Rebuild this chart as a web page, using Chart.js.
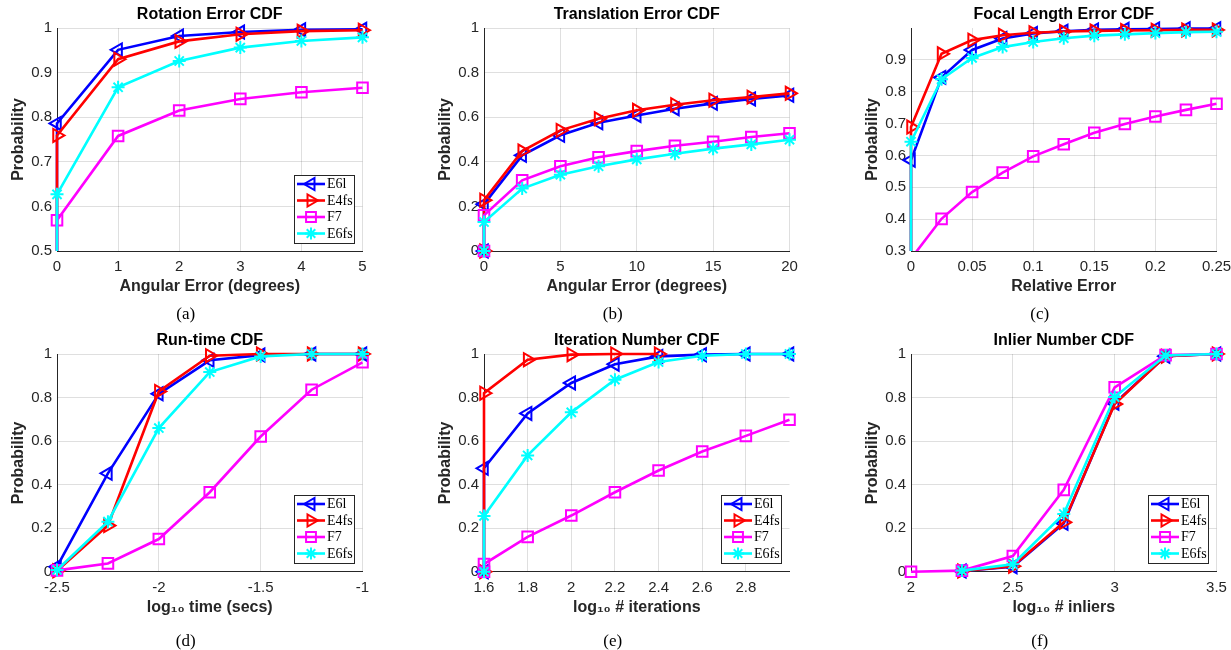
<!DOCTYPE html>
<html>
<head>
<meta charset="utf-8">
<script src="https://cdn.jsdelivr.net/npm/chart.js@4.4.1/dist/chart.umd.min.js"></script>
<style>
  html, body { margin: 0; padding: 0; background: #ffffff; overflow: hidden; width: 1231px; height: 650px; }
  canvas { position: absolute; }
</style>
</head>
<body>
<canvas id="ca"></canvas>
<canvas id="cb"></canvas>
<canvas id="cc"></canvas>
<canvas id="cd"></canvas>
<canvas id="ce"></canvas>
<canvas id="cf"></canvas>
<script>
// ---------------- DATA ----------------
const seriesNames = ['E6l', 'E4fs', 'F7', 'E6fs'];

// (a) Rotation Error CDF
const aX    = [0, 0, 1, 2, 3, 4, 5];
const aE6l  = [0, 0.786, 0.951, 0.982, 0.991, 0.996, 0.997];
const aE4fs = [0, 0.759, 0.930, 0.970, 0.986, 0.993, 0.995];
const aF7   = [0, 0.569, 0.758, 0.815, 0.841, 0.856, 0.866];
const aE6fs = [0, 0.627, 0.867, 0.926, 0.956, 0.971, 0.979];
const aXTicks = [0, 1, 2, 3, 4, 5];
const aXLabels = ['0', '1', '2', '3', '4', '5'];
const aYTicks = [0.5, 0.6, 0.7, 0.8, 0.9, 1];
const aYLabels = ['0.5', '0.6', '0.7', '0.8', '0.9', '1'];

// (b) Translation Error CDF
const bX    = [0, 0, 2.5, 5, 7.5, 10, 12.5, 15, 17.5, 20];
const bE6l  = [0, 0.210, 0.429, 0.519, 0.575, 0.608, 0.638, 0.662, 0.682, 0.698];
const bE4fs = [0, 0.228, 0.448, 0.541, 0.593, 0.631, 0.656, 0.676, 0.690, 0.707];
const bF7   = [0, 0.160, 0.317, 0.380, 0.420, 0.448, 0.472, 0.490, 0.511, 0.528];
const bE6fs = [0, 0.130, 0.280, 0.342, 0.380, 0.411, 0.436, 0.459, 0.478, 0.499];
const bXTicks = [0, 5, 10, 15, 20];
const bXLabels = ['0', '5', '10', '15', '20'];
const bYTicks = [0, 0.2, 0.4, 0.6, 0.8, 1];
const bYLabels = ['0', '0.2', '0.4', '0.6', '0.8', '1'];

// (c) Focal Length Error CDF
const cX    = [0, 0, 0.025, 0.05, 0.075, 0.1, 0.125, 0.15, 0.175, 0.2, 0.225, 0.25];
const cE6l  = [0, 0.585, 0.845, 0.931, 0.967, 0.983, 0.990, 0.994, 0.996, 0.997, 0.998, 0.998];
const cE4fs = [0, 0.689, 0.919, 0.962, 0.977, 0.985, 0.989, 0.991, 0.992, 0.993, 0.994, 0.994];
const cF7   = [0, 0.276, 0.401, 0.485, 0.546, 0.597, 0.635, 0.671, 0.699, 0.722, 0.743, 0.762];
const cE6fs = [0, 0.643, 0.839, 0.906, 0.940, 0.956, 0.968, 0.976, 0.980, 0.984, 0.987, 0.988];
const cXTicks = [0, 0.05, 0.1, 0.15, 0.2, 0.25];
const cXLabels = ['0', '0.05', '0.1', '0.15', '0.2', '0.25'];
const cYTicks = [0.3, 0.4, 0.5, 0.6, 0.7, 0.8, 0.9];
const cYLabels = ['0.3', '0.4', '0.5', '0.6', '0.7', '0.8', '0.9'];

// (d) Run-time CDF
const dX    = [-2.5, -2.25, -2, -1.75, -1.5, -1.25, -1];
const dE6l  = [0.023, 0.452, 0.817, 0.971, 0.995, 1.0, 1.0];
const dE4fs = [0.004, 0.212, 0.828, 0.992, 1.0, 1.0, 1.0];
const dF7   = [0.006, 0.038, 0.150, 0.365, 0.621, 0.836, 0.962];
const dE6fs = [0.008, 0.230, 0.660, 0.917, 0.989, 1.0, 1.0];
const dXTicks = [-2.5, -2, -1.5, -1];
const dXLabels = ['-2.5', '-2', '-1.5', '-1'];
const dYTicks = [0, 0.2, 0.4, 0.6, 0.8, 1];
const dYLabels = ['0', '0.2', '0.4', '0.6', '0.8', '1'];

// (e) Iteration Number CDF
const eX    = [1.6, 1.6, 1.8, 2.0, 2.2, 2.4, 2.6, 2.8, 3.0];
const eE6l  = [0, 0.475, 0.727, 0.867, 0.953, 0.989, 0.997, 1.0, 1.0];
const eE4fs = [0, 0.820, 0.974, 0.997, 1.0, 1.0];
const eF7   = [0, 0.035, 0.160, 0.258, 0.365, 0.465, 0.552, 0.624, 0.698];
const eE6fs = [0, 0.256, 0.534, 0.732, 0.882, 0.963, 0.992, 1.0, 1.0];
const eXTicks = [1.6, 1.8, 2.0, 2.2, 2.4, 2.6, 2.8];
const eXLabels = ['1.6', '1.8', '2', '2.2', '2.4', '2.6', '2.8'];
const eYTicks = [0, 0.2, 0.4, 0.6, 0.8, 1];
const eYLabels = ['0', '0.2', '0.4', '0.6', '0.8', '1'];

// (f) Inlier Number CDF
const fX    = [2, 2.25, 2.5, 2.75, 3, 3.25, 3.5];
const fE6l  = [null, 0.003, 0.023, 0.222, 0.774, 0.990, 1.0];
const fE4fs = [null, 0.003, 0.025, 0.227, 0.770, 0.990, 1.0];
const fF7   = [0, 0.005, 0.072, 0.376, 0.847, 0.995, 1.0];
const fE6fs = [null, 0.005, 0.034, 0.265, 0.802, 0.993, 1.0];
const fXTicks = [2, 2.5, 3, 3.5];
const fXLabels = ['2', '2.5', '3', '3.5'];
const fYTicks = [0, 0.2, 0.4, 0.6, 0.8, 1];
const fYLabels = ['0', '0.2', '0.4', '0.6', '0.8', '1'];

// ---------------- STYLE ----------------
const SANS = "'Liberation Sans', Arial, Helvetica, sans-serif";
const SERIF = "'Liberation Serif', 'Times New Roman', Times, serif";
Chart.defaults.font.family = SANS;
Chart.defaults.color = '#262626';

const seriesStyle = [
  { color: '#0000ff', pointStyle: 'triangle', rotation: -90, radius: 7.5, order: 3 },
  { color: '#ff0000', pointStyle: 'triangle', rotation: 90, radius: 7.5, order: 2 },
  { color: '#ff00ff', pointStyle: 'rect', rotation: 0, radius: 7.5, order: 1 },
  { color: '#00ffff', pointStyle: 'star', rotation: 0, radius: 6.5, order: 0 }
];
const LINE_W = 2.6;

function drawMarker(ctx, st, x, y, scale) {
  const r = st.radius * scale;
  if (Chart.helpers && Chart.helpers.drawPoint) {
    Chart.helpers.drawPoint(ctx, { pointStyle: st.pointStyle, rotation: st.rotation, radius: r, borderWidth: 2 }, x, y);
    return;
  }
  ctx.beginPath();
  ctx.arc(x, y, r, 0, Math.PI * 2);
  ctx.stroke();
}

const matlabLegend = {
  id: 'matlabLegend',
  afterDatasetsDraw(chart, args, opts) {
    if (!opts || !opts.show) return;
    const ctx = chart.ctx, ca = chart.chartArea;
    const w = 60, h = 68;
    const x0 = Math.round(ca.right - 8.5 - w), y0 = Math.round(ca.bottom - 8.5 - h);
    ctx.save();
    ctx.fillStyle = '#ffffff';
    ctx.fillRect(x0, y0, w, h);
    ctx.strokeStyle = '#262626';
    ctx.lineWidth = 1;
    ctx.strokeRect(x0 + 0.5, y0 + 0.5, w, h);
    seriesNames.forEach((name, i) => {
      const st = seriesStyle[i];
      const y = y0 + 9 + i * 16.5;
      ctx.strokeStyle = st.color;
      ctx.lineWidth = LINE_W;
      ctx.beginPath();
      ctx.moveTo(x0 + 3, y);
      ctx.lineTo(x0 + 31, y);
      ctx.stroke();
      ctx.fillStyle = 'rgba(0,0,0,0)';
      ctx.lineWidth = 2;
      drawMarker(ctx, st, x0 + 17, y, 0.93);
      ctx.fillStyle = '#000000';
      ctx.font = '14px ' + SERIF;
      ctx.textBaseline = 'middle';
      ctx.textAlign = 'left';
      ctx.fillText(name, x0 + 33, y + 0.5);
    });
    ctx.restore();
  }
};

const GRID = 'rgba(38,38,38,0.15)';

function makePanel(p) {
  const canvas = document.getElementById(p.id);
  canvas.width = p.w; canvas.height = p.h;
  canvas.style.left = p.left + 'px';
  canvas.style.top = p.top + 'px';
  canvas.style.width = p.w + 'px';
  canvas.style.height = p.h + 'px';
  const datasets = p.series.map((ys, i) => {
    const st = seriesStyle[i];
    return {
      label: seriesNames[i],
      data: ys.map((y, k) => ({ x: p.x[k], y: y })),
      borderColor: st.color,
      backgroundColor: st.color,
      borderWidth: LINE_W,
      pointStyle: st.pointStyle,
      pointRotation: st.rotation,
      pointRadius: st.radius,
      pointHoverRadius: st.radius,
      pointBorderWidth: 2,
      pointBorderColor: st.color,
      pointBackgroundColor: 'rgba(0,0,0,0)',
      tension: 0,
      fill: false,
      spanGaps: false,
      order: st.order,
      clip: { left: 12, top: 12, right: 12, bottom: p.clipBottom }
    };
  });
  return new Chart(canvas, {
    type: 'line',
    data: { datasets },
    plugins: [matlabLegend],
    options: {
      responsive: false,
      animation: false,
      devicePixelRatio: 1,
      layout: { padding: { top: 5, left: 9, right: 28.5, bottom: 0 } },
      plugins: {
        legend: { display: false },
        tooltip: { enabled: false },
        matlabLegend: { show: p.legend },
        title: {
          display: true, text: p.title, color: '#000000', fullSize: false,
          font: { size: 16, weight: 'bold', family: SANS },
          padding: { top: 0, bottom: 3.8 }
        },
        subtitle: {
          display: true, text: p.caption, position: 'bottom', color: '#000000', fullSize: true,
          font: { size: 17, weight: 'normal', family: SERIF },
          padding: { top: p.capPad, bottom: 0 }
        }
      },
      scales: {
        x: {
          type: 'linear', min: p.xMin, max: p.xMax,
          afterBuildTicks: (s) => { s.ticks = p.xTicks.map(v => ({ value: v })); },
          afterFit: (s) => { s.height = 45.6; },
          ticks: { autoSkip: false, maxRotation: 0, padding: 7, color: '#262626',
                   font: { size: 15, family: SANS },
                   callback: (v, i) => p.xLabels[i] },
          grid: { color: GRID, lineWidth: 1, drawTicks: false },
          border: { display: true, color: '#262626', width: 1 },
          title: { display: true, text: p.xTitle, color: '#262626', padding: 0,
                   font: { size: 16, weight: 'bold', family: SANS } }
        },
        y: {
          type: 'linear', min: p.yMin, max: p.yMax,
          afterBuildTicks: (s) => { s.ticks = p.yTicks.map(v => ({ value: v })); },
          afterFit: (s) => { s.width = 48; },
          ticks: { autoSkip: false, padding: 5, color: '#262626',
                   font: { size: 15, family: SANS },
                   callback: (v, i) => p.yLabels[i] },
          grid: { color: GRID, lineWidth: 1, drawTicks: false },
          border: { display: true, color: '#262626', width: 1 },
          title: { display: true, text: 'Probability', color: '#262626', padding: 0,
                   font: { size: 16, weight: 'bold', family: SANS } }
        }
      }
    }
  });
}

const ROW1 = { top: 0, h: 325, capPad: 8 };
const ROW2 = { top: 326, h: 326, capPad: 14.3 };
const COLS = [0, 427, 854];
const W = 391;

makePanel({ id: 'ca', left: COLS[0], top: ROW1.top, w: W, h: ROW1.h, capPad: ROW1.capPad,
  title: 'Rotation Error CDF', xTitle: 'Angular Error (degrees)', caption: '(a)',
  x: aX, series: [aE6l, aE4fs, aF7, aE6fs], xMin: 0, xMax: 5, yMin: 0.5, yMax: 1,
  xTicks: aXTicks, xLabels: aXLabels, yTicks: aYTicks, yLabels: aYLabels,
  legend: true, clipBottom: 0 });

makePanel({ id: 'cb', left: COLS[1], top: ROW1.top, w: W, h: ROW1.h, capPad: ROW1.capPad,
  title: 'Translation Error CDF', xTitle: 'Angular Error (degrees)', caption: '(b)',
  x: bX, series: [bE6l, bE4fs, bF7, bE6fs], xMin: 0, xMax: 20, yMin: 0, yMax: 1,
  xTicks: bXTicks, xLabels: bXLabels, yTicks: bYTicks, yLabels: bYLabels,
  legend: false, clipBottom: 12 });

makePanel({ id: 'cc', left: COLS[2], top: ROW1.top, w: W, h: ROW1.h, capPad: ROW1.capPad,
  title: 'Focal Length Error CDF', xTitle: 'Relative Error', caption: '(c)',
  x: cX, series: [cE6l, cE4fs, cF7, cE6fs], xMin: 0, xMax: 0.25, yMin: 0.3, yMax: 1,
  xTicks: cXTicks, xLabels: cXLabels, yTicks: cYTicks, yLabels: cYLabels,
  legend: false, clipBottom: 0 });

makePanel({ id: 'cd', left: COLS[0], top: ROW2.top, w: W, h: ROW2.h, capPad: ROW2.capPad,
  title: 'Run-time CDF', xTitle: 'log\u2081\u2080 time (secs)', caption: '(d)',
  x: dX, series: [dE6l, dE4fs, dF7, dE6fs], xMin: -2.5, xMax: -1, yMin: 0, yMax: 1,
  xTicks: dXTicks, xLabels: dXLabels, yTicks: dYTicks, yLabels: dYLabels,
  legend: true, clipBottom: 12 });

makePanel({ id: 'ce', left: COLS[1], top: ROW2.top, w: W, h: ROW2.h, capPad: ROW2.capPad,
  title: 'Iteration Number CDF', xTitle: 'log\u2081\u2080 # iterations', caption: '(e)',
  x: eX, series: [eE6l, eE4fs, eF7, eE6fs], xMin: 1.6, xMax: 3.0, yMin: 0, yMax: 1,
  xTicks: eXTicks, xLabels: eXLabels, yTicks: eYTicks, yLabels: eYLabels,
  legend: true, clipBottom: 12 });

makePanel({ id: 'cf', left: COLS[2], top: ROW2.top, w: W, h: ROW2.h, capPad: ROW2.capPad,
  title: 'Inlier Number CDF', xTitle: 'log\u2081\u2080 # inliers', caption: '(f)',
  x: fX, series: [fE6l, fE4fs, fF7, fE6fs], xMin: 2, xMax: 3.5, yMin: 0, yMax: 1,
  xTicks: fXTicks, xLabels: fXLabels, yTicks: fYTicks, yLabels: fYLabels,
  legend: true, clipBottom: 12 });
</script>
</body>
</html>
